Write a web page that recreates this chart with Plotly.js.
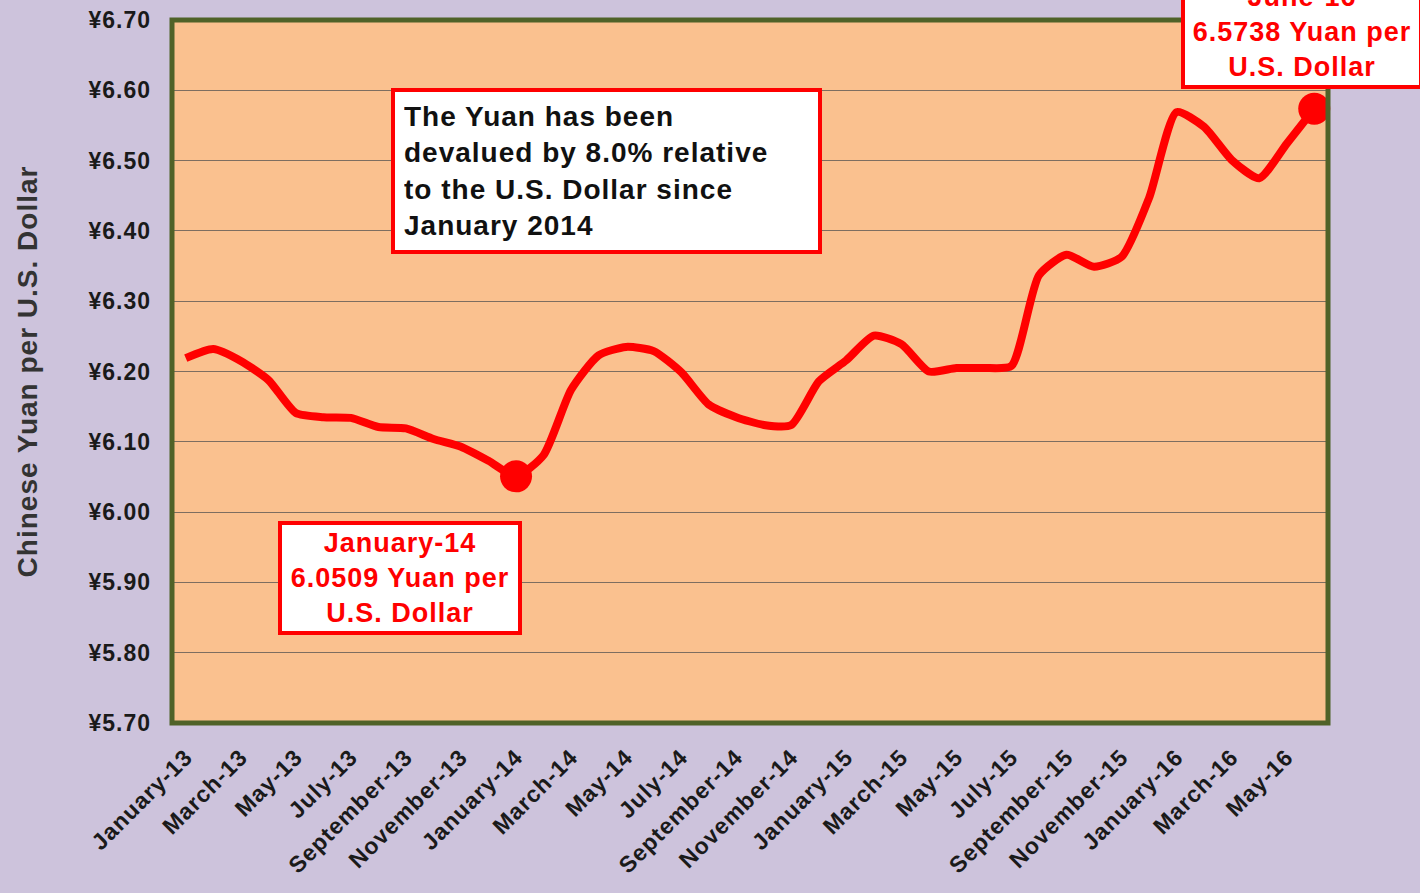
<!DOCTYPE html>
<html>
<head>
<meta charset="utf-8">
<script src="https://cdn.plot.ly/plotly-3.0.1.min.js"></script>
<style>
html,body{margin:0;padding:0;background:#CDC3DC;}
#chart{width:1420px;height:893px;}
text{letter-spacing:1px;}
</style>
</head>
<body>
<div id="chart"></div>
<script>
// Months (categories)
const months = [
  "January-13","February-13","March-13","April-13","May-13","June-13","July-13","August-13","September-13","October-13","November-13","December-13",
  "January-14","February-14","March-14","April-14","May-14","June-14","July-14","August-14","September-14","October-14","November-14","December-14",
  "January-15","February-15","March-15","April-15","May-15","June-15","July-15","August-15","September-15","October-15","November-15","December-15",
  "January-16","February-16","March-16","April-16","May-16","June-16"
];
// Chinese Yuan per U.S. Dollar
const yuanPerDollar = [
  6.219, 6.232, 6.215, 6.188, 6.141, 6.135, 6.134, 6.121, 6.119, 6.104, 6.093, 6.073,
  6.0509, 6.081, 6.174, 6.223, 6.235, 6.229, 6.199, 6.153, 6.135, 6.124, 6.124, 6.186,
  6.216, 6.251, 6.239, 6.200, 6.205, 6.205, 6.208, 6.337, 6.366, 6.349, 6.363, 6.447,
  6.569, 6.548, 6.501, 6.475, 6.524, 6.5738
];
// Tick labels shown on the x axis
const tickLabels = [
  "January-13","March-13","May-13","July-13","September-13","November-13",
  "January-14","March-14","May-14","July-14","September-14","November-14",
  "January-15","March-15","May-15","July-15","September-15","November-15",
  "January-16","March-16","May-16"
];
// Highlighted points
const highlightMonths = ["January-14","June-16"];
const yTickVals = [5.70,5.80,5.90,6.00,6.10,6.20,6.30,6.40,6.50,6.60,6.70];
const yTickText = yTickVals.map(v => "¥" + v.toFixed(2));

const highlightValues = highlightMonths.map(m => yuanPerDollar[months.indexOf(m)]);

const FONT = "Liberation Sans, Arial, sans-serif";

const traces = [
  {
    x: months, y: yuanPerDollar, type: "scatter", mode: "lines",
    line: {color: "#FF0000", width: 8, shape: "spline", smoothing: 0.6},
    hoverinfo: "x+y", showlegend: false, cliponaxis: false
  },
  {
    x: highlightMonths, y: highlightValues, type: "scatter", mode: "markers",
    marker: {color: "#FF0000", size: 32},
    showlegend: false, cliponaxis: false
  }
];

const layout = {
  width: 1420, height: 893,
  paper_bgcolor: "#CDC3DC",
  plot_bgcolor: "#FAC18F",
  margin: {l: 172, r: 92, t: 20, b: 170},
  font: {family: FONT, color: "#1a1a1a"},
  showlegend: false,
  xaxis: {
    type: "category",
    categoryorder: "array", categoryarray: months,
    range: [-0.5, months.length - 0.5],
    tickmode: "array", tickvals: tickLabels, ticktext: tickLabels,
    tickangle: -45,
    tickfont: {family: FONT, size: 23, weight: "bold", color: "#1a1a1a"},
    ticklabelstandoff: 15,
    showgrid: false, zeroline: false, showline: false,
    ticks: "", fixedrange: true
  },
  yaxis: {
    range: [5.70, 6.70],
    tickmode: "array", tickvals: yTickVals, ticktext: yTickText,
    tickfont: {family: FONT, size: 23, weight: "bold", color: "#1a1a1a"},
    ticklabelstandoff: 20,
    showgrid: true, gridcolor: "#7D6E60", gridwidth: 1,
    zeroline: false, showline: false, ticks: "",
    title: {text: "Chinese Yuan per U.S. Dollar", standoff: 42,
            font: {family: FONT, size: 28, weight: "bold", color: "#333333"}},
    fixedrange: true
  },
  shapes: [
    {type: "rect", xref: "paper", yref: "paper", x0: 0, x1: 1, y0: 0, y1: 1,
     line: {color: "#4F6228", width: 5}, fillcolor: "rgba(0,0,0,0)", layer: "above"}
  ],
  annotations: [
    {
      xref: "paper", yref: "paper", x: 0.3759, y: 0.785, xanchor: "center", yanchor: "middle",
      text: "The Yuan has been<br>devalued by 8.0% relative<br>to the U.S. Dollar since<br>January 2014",
      align: "left", showarrow: false,
      font: {family: FONT, size: 28, weight: "bold", color: "#111111"},
      bgcolor: "#FFFFFF", bordercolor: "#FF0000", borderwidth: 4, borderpad: 9,
      width: 405
    },
    {
      xref: "paper", yref: "paper", x: 0.1972, y: 0.2063, xanchor: "center", yanchor: "middle",
      text: "January-14<br>6.0509 Yuan per<br>U.S. Dollar",
      align: "center", showarrow: false,
      font: {family: FONT, size: 27, weight: "bold", color: "#FF0000"},
      bgcolor: "#FFFFFF", bordercolor: "#FF0000", borderwidth: 4, borderpad: 3,
      width: 230
    },
    {
      xref: "paper", yref: "paper", x: 0.9775, y: 0.983, xanchor: "center", yanchor: "middle",
      text: "June-16<br>6.5738 Yuan per<br>U.S. Dollar",
      align: "center", showarrow: false,
      font: {family: FONT, size: 27, weight: "bold", color: "#FF0000"},
      bgcolor: "#FFFFFF", bordercolor: "#FF0000", borderwidth: 4, borderpad: 3,
      width: 228
    }
  ]
};

Plotly.newPlot("chart", traces, layout, {displayModeBar: false, staticPlot: true});
</script>
</body>
</html>
